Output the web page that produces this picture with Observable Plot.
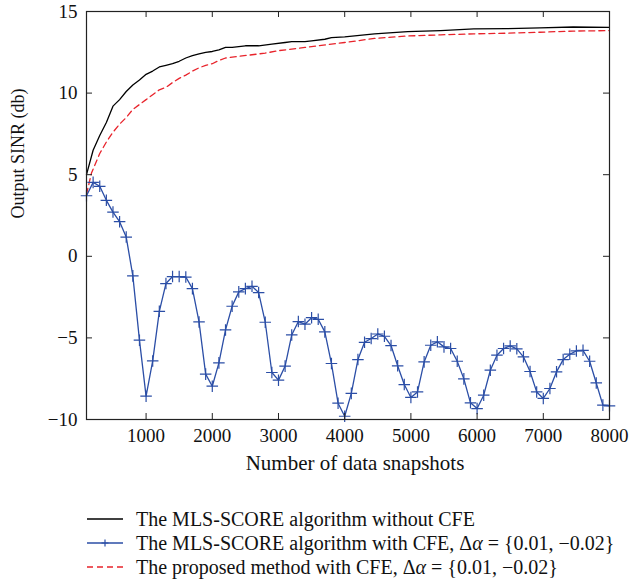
<!DOCTYPE html>
<html>
<head>
<meta charset="utf-8">
<script src="https://cdn.jsdelivr.net/npm/d3@7"></script>
<script src="https://cdn.jsdelivr.net/npm/@observablehq/plot@0.6"></script>
<style>
  html, body { margin: 0; padding: 0; background: #fff; overflow: hidden; }
  #wrap { position: relative; width: 630px; height: 585px; }
  #legend { position: absolute; left: 87px; top: 507px; font-family: "Liberation Serif", serif; font-size: 20px; color: #111; white-space: nowrap; }
  #legend .row { display: flex; align-items: center; height: 24px; }
  #legend svg { flex: none; margin-right: 13px; }
</style>
</head>
<body>
<div id="wrap"><div id="chart"></div><div id="legend"></div></div>
<script>
// ---- data ----
const xTicks = [1000, 2000, 3000, 4000, 5000, 6000, 7000, 8000];
const yTicks = [-10, -5, 0, 5, 10, 15];
const xLabel = "Number of data snapshots";
const yLabel = "Output SINR (db)";
const seriesNames = [
  "The MLS-SCORE algorithm without CFE",
  "The MLS-SCORE algorithm with CFE, Δ<i>α</i> = {0.01, −0.02}",
  "The proposed method with CFE, Δ<i>α</i> = {0.01, −0.02}"
];

// black: MLS-SCORE without CFE
const noCfeX = [100,200,300,400,500,600,700,800,900,1000,1100,1200,1300,1400,1500,1600,1700,1800,1900,2000,2100,2200,2300,2500,2700,2900,3100,3200,3400,3500,3700,3800,4000,4450,4950,5450,5950,6450,6950,7450,8000];
const noCfeY = [5.0,6.5,7.4,8.2,9.2,9.6,10.1,10.5,10.8,11.15,11.35,11.6,11.7,11.8,11.95,12.15,12.3,12.4,12.5,12.55,12.65,12.8,12.8,12.9,12.9,13.0,13.1,13.15,13.15,13.2,13.3,13.4,13.45,13.63,13.77,13.83,13.93,13.95,14.0,14.05,14.03];

// blue: MLS-SCORE with CFE
const cfeX = [100,200,300,400,500,600,700,800,900,1000,1100,1200,1300,1400,1500,1600,1700,1800,1900,2000,2100,2200,2300,2400,2500,2600,2700,2800,2900,3000,3100,3200,3300,3400,3500,3600,3700,3800,3900,4000,4100,4200,4300,4400,4500,4600,4700,4800,4900,5000,5100,5200,5300,5400,5500,5600,5700,5800,5900,6000,6100,6200,6300,6400,6500,6600,6700,6800,6900,7000,7100,7200,7300,7400,7500,7600,7700,7800,7900,8000];
const cfeY = [3.71,4.53,4.29,3.43,2.71,2.12,1.18,-1.20,-5.14,-8.57,-6.41,-3.37,-1.67,-1.24,-1.24,-1.27,-1.98,-4.02,-7.22,-7.96,-6.53,-4.51,-3.06,-2.18,-1.98,-1.84,-2.22,-4.04,-7.12,-7.59,-6.73,-4.82,-4.00,-4.16,-3.76,-3.86,-4.63,-6.57,-9.00,-9.80,-8.40,-6.33,-5.27,-5.04,-4.76,-4.90,-5.47,-6.71,-7.86,-8.65,-8.31,-6.47,-5.45,-5.24,-5.55,-5.65,-6.43,-7.51,-8.98,-9.33,-8.51,-6.98,-6.06,-5.65,-5.49,-5.67,-6.16,-7.06,-8.31,-8.71,-8.10,-7.08,-6.33,-6.00,-5.80,-5.76,-6.43,-7.76,-9.12,-9.16];

// red: proposed method with CFE
const propX = [100,175,300,400,500,600,700,800,900,1000,1100,1200,1300,1400,1500,1600,1700,1800,1900,2000,2100,2200,2400,2600,2800,3000,3200,3400,3600,3800,4000,4450,4950,5450,5950,6450,6950,7450,8000];
const propY = [3.8,5.1,6.3,7.0,7.6,8.1,8.5,9.0,9.3,9.6,9.9,10.2,10.35,10.65,10.9,11.1,11.35,11.55,11.7,11.8,12.0,12.15,12.25,12.35,12.45,12.6,12.7,12.8,12.9,13.0,13.1,13.35,13.5,13.57,13.63,13.67,13.73,13.8,13.83];

// ---- styles ----
const BLACK = "#000", BLUE = "#2b4ea6", RED = "#e8232b";
const W = 630, H = 490, ML = 86, MR = 21, MT = 11, MB = 71;
const IW = W - ML - MR, IH = H - MT - MB, TK = 6;

const zip = (xs, ys) => xs.map((x, i) => ({x, y: ys[i]}));
const noCfe = zip(noCfeX, noCfeY);
const cfe = zip(cfeX, cfeY);
const prop = zip(propX, propY);

const chart = Plot.plot({
  width: W, height: H,
  marginLeft: ML, marginRight: MR, marginTop: MT, marginBottom: MB,
  style: {fontFamily: "Liberation Serif, serif", fontSize: "19px", color: "#111", background: "#fff"},
  x: {domain: [100, 8000]},
  y: {domain: [-10, 15]},
  marks: [
    Plot.line(noCfe, {x: "x", y: "y", stroke: BLACK, strokeWidth: 1.3}),
    Plot.line(prop, {x: "x", y: "y", stroke: RED, strokeWidth: 1.3, strokeDasharray: "6,4"}),
    Plot.line(cfe, {x: "x", y: "y", stroke: BLUE, strokeWidth: 1.3}),
    Plot.dot(cfe, {x: "x", y: "y", symbol: "plus", r: 3.8, stroke: BLUE, strokeWidth: 1.2}),
    Plot.frame({stroke: "#222", strokeWidth: 1.2}),
    // inward ticks: bottom, top, left, right
    Plot.tickX(xTicks, {x: d => d, insetTop: IH - TK, stroke: "#222"}),
    Plot.tickX(xTicks, {x: d => d, insetBottom: IH - TK, stroke: "#222"}),
    Plot.tickY(yTicks, {y: d => d, insetRight: IW - TK, stroke: "#222"}),
    Plot.tickY(yTicks, {y: d => d, insetLeft: IW - TK, stroke: "#222"}),
    Plot.axisX(xTicks, {tickSize: 0, tickPadding: 9, fontSize: 19, tickFormat: d3.format("d"), label: null}),
    Plot.axisY(yTicks, {tickSize: 0, tickPadding: 9, fontSize: 19, label: null}),
    Plot.text([xLabel], {frameAnchor: "bottom", dx: 7, dy: 50, fontSize: 21, fill: "#111"}),
    Plot.text([yLabel], {frameAnchor: "left", dx: -68, dy: 3, rotate: -90, fontSize: 18, fill: "#111"})
  ]
});
document.getElementById("chart").appendChild(chart);

// ---- legend ----
const samples = [
  `<svg width="36" height="10"><line x1="0" y1="5" x2="36" y2="5" stroke="${BLACK}" stroke-width="1.3"/></svg>`,
  `<svg width="36" height="10"><line x1="0" y1="5" x2="36" y2="5" stroke="${BLUE}" stroke-width="1.3"/><path d="M14.5,5H21.5M18,1.5V8.5" stroke="${BLUE}" stroke-width="1.2"/></svg>`,
  `<svg width="36" height="10"><line x1="0" y1="5" x2="36" y2="5" stroke="${RED}" stroke-width="1.3" stroke-dasharray="6,4"/></svg>`
];
document.getElementById("legend").innerHTML = seriesNames
  .map((name, i) => `<div class="row">${samples[i]}<span>${name}</span></div>`).join("");
</script>
</body>
</html>
